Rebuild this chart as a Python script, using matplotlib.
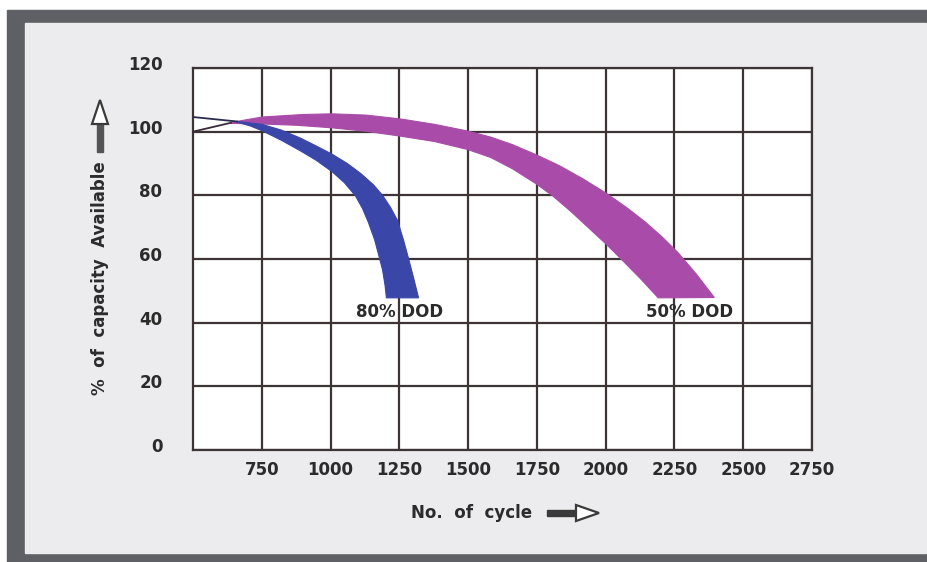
import matplotlib
matplotlib.use("Agg")
import matplotlib.pyplot as plt
import matplotlib.transforms as mtransforms
from matplotlib.patches import Rectangle, Polygon
import numpy as np

# axis layout
x_ticks = [750, 1000, 1250, 1500, 1750, 2000, 2250, 2500, 2750]
y_ticks = [0, 20, 40, 60, 80, 100, 120]

# 80% DOD band (outer / inner edge)
blue_outer_x = [660, 751, 821, 890, 948, 1006, 1061, 1112, 1156, 1189,
                1218, 1243, 1265, 1284, 1302, 1320]
blue_outer_y = [103.2, 102.3, 100.5, 98.0, 95.5, 92.9, 90.0, 86.7, 83.3, 80.0,
                76.2, 72.2, 66.0, 60.0, 54.0, 47.8]
blue_inner_x = [660, 708, 751, 821, 890, 948, 1006, 1050, 1090, 1116,
                1138, 1160, 1176, 1189, 1198, 1203]
blue_inner_y = [103.0, 101.8, 100.3, 97.3, 94.0, 91.0, 87.4, 84.0, 79.9, 75.9,
                71.4, 66.1, 60.9, 56.6, 51.8, 47.8]
blue_lead_x = [500, 660]
blue_lead_y = [104.6, 103.2]

# 50% DOD band (outer / inner edge)
mag_outer_x = [638, 751, 901, 1006, 1130, 1254, 1378, 1498, 1582, 1662,
               1746, 1830, 1917, 2001, 2074, 2140, 2202, 2264, 2329, 2395]
mag_outer_y = [102.9, 104.6, 105.4, 105.6, 105.2, 104.0, 102.3, 100.2, 98.3, 95.9,
               92.8, 89.4, 85.2, 80.7, 76.3, 71.9, 67.2, 61.9, 55.3, 47.9]
mag_inner_x = [638, 751, 879, 1006, 1130, 1254, 1378, 1498, 1582, 1662,
               1746, 1808, 1874, 1939, 2005, 2063, 2129, 2191]
mag_inner_y = [102.6, 102.4, 102.0, 101.2, 100.1, 98.6, 96.9, 94.4, 91.9, 88.3,
               83.7, 79.8, 74.9, 69.7, 64.4, 59.4, 53.6, 47.8]
mag_lead_x = [500, 638]
mag_lead_y = [100.0, 102.8]

labels = ["80% DOD", "50% DOD"]
label_x = [1250, 2305]
label_y = [43.3, 43.3]

W, H = 927, 562
txt = "#2b2b2b"
grid_c = "#3d3535"
blue = "#3a46a8"
magenta = "#a94ca9"
fs = 12

fig = plt.figure(figsize=(W / 100, H / 100), dpi=100, facecolor="white")


def px(x, y):
    # figure fraction from image pixel position (origin top-left)
    return x / W, 1 - y / H


# frame
fig.patches.append(Rectangle((7 / W, 0), (W - 7) / W, (H - 10) / H,
                             transform=fig.transFigure, color="#5f6065", zorder=-10))
fig.patches.append(Rectangle((25 / W, 9 / H), (926 - 25) / W, (553 - 23) / H,
                             transform=fig.transFigure, color="#ececee", zorder=-9))

ax = fig.add_axes([193 / W, (H - 450) / H, (812 - 193) / W, (450 - 68) / H])
ax.set_facecolor("white")
ax.set_xlim(500, 2750)
ax.set_ylim(0, 120)
ax.set_xticks(x_ticks)
ax.set_yticks(y_ticks)
ax.grid(True, color=grid_c, linewidth=1.6)
ax.set_axisbelow(True)
for s in ax.spines.values():
    s.set_color(grid_c)
    s.set_linewidth(1.6)
ax.tick_params(length=0, labelsize=fs, colors=txt)
ax.tick_params(axis="x", pad=8)
ax.tick_params(axis="y", pad=22)
for lab in ax.get_xticklabels() + ax.get_yticklabels():
    lab.set_fontweight("bold")
shift = mtransforms.ScaledTranslation(0, 5 / 100, fig.dpi_scale_trans)
for lab in ax.get_yticklabels():
    lab.set_transform(lab.get_transform() + shift)

# bands
ax.fill(np.concatenate([mag_outer_x, mag_inner_x[::-1]]),
        np.concatenate([mag_outer_y, mag_inner_y[::-1]]),
        color=magenta, lw=0.8, zorder=3)
ax.plot(mag_lead_x, mag_lead_y, color="#3a2a3a", lw=1.3, zorder=3)
ax.fill(np.concatenate([blue_outer_x, blue_inner_x[::-1]]),
        np.concatenate([blue_outer_y, blue_inner_y[::-1]]),
        color=blue, lw=0.8, zorder=4)
ax.plot(blue_lead_x, blue_lead_y, color="#2a2a50", lw=1.3, zorder=4)

for t, x, y in zip(labels, label_x, label_y):
    ax.text(x, y, t, ha="center", va="center", fontsize=fs,
            fontweight="bold", color=txt, zorder=5)

# axis titles with hollow-headed arrows
fig.text(*px(472, 513), "No.  of  cycle", ha="center", va="center",
         fontsize=fs, fontweight="bold", color=txt)
fig.text(*px(100, 278), "%  of  capacity  Available", ha="center",
         va="center", rotation=90, fontsize=fs, fontweight="bold", color=txt)

arrow_c = "#3a3a3a"
fig.patches.append(Rectangle(px(547, 516), 29 / W, 6 / H, transform=fig.transFigure,
                             color=arrow_c, zorder=2))
fig.patches.append(Polygon([px(576, 505), px(599, 513), px(576, 521)], closed=True,
                           transform=fig.transFigure, facecolor="white",
                           edgecolor=arrow_c, lw=1.6, zorder=3))
fig.patches.append(Rectangle(px(97, 152), 6 / W, 28 / H, transform=fig.transFigure,
                             color="#555555", zorder=2))
fig.patches.append(Polygon([px(92, 124), px(100, 100), px(108, 124)], closed=True,
                           transform=fig.transFigure, facecolor="white",
                           edgecolor=arrow_c, lw=1.6, zorder=3))

fig.savefig("out.png", dpi=100, facecolor=fig.get_facecolor())
